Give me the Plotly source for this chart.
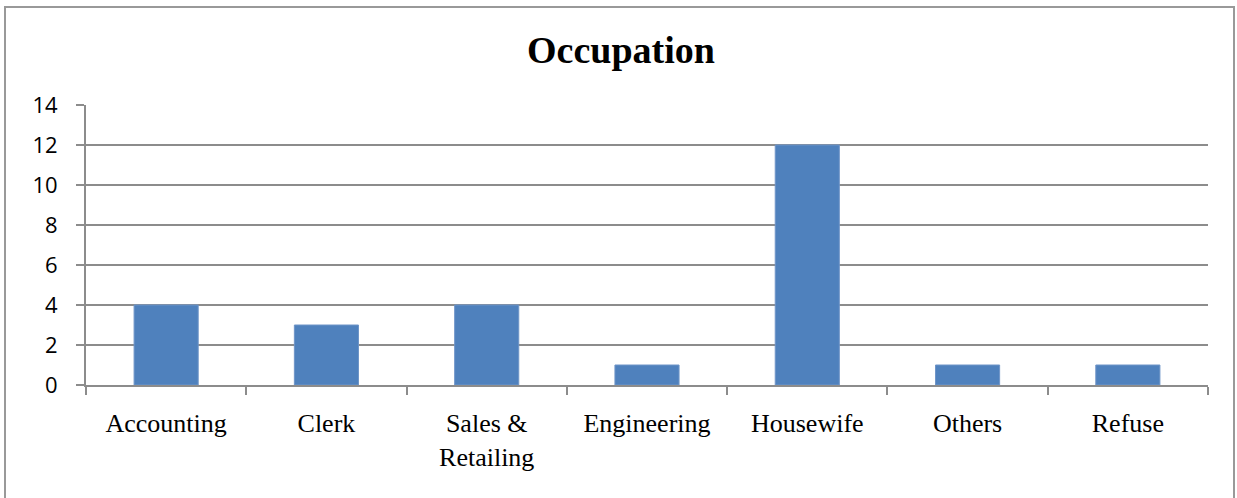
import plotly.graph_objects as go

# Occupation counts
categories = ["Accounting", "Clerk", "Sales &<br>Retailing", "Engineering",
              "Housewife", "Others", "Refuse"]
counts = [4, 3, 4, 1, 12, 1, 1]
y_ticks = [0, 2, 4, 6, 8, 10, 12, 14]

W, H = 1237, 498
L, R, T, B = 86, 29, 105, 113
pw, ph = W - L - R, H - T - B

fig = go.Figure(go.Bar(
    x=categories, y=counts,
    width=0.4,
    marker=dict(color="#4F81BD", line=dict(color="#6f95c8", width=1)),
))

grey = "#8c8c8c"
fig.update_layout(
    width=W, height=H,
    margin=dict(l=L, r=R, t=T, b=B),
    paper_bgcolor="white", plot_bgcolor="white",
    showlegend=False,
    title=dict(text="<b>Occupation</b>", x=0.502, xref="container",
               y=1 - 50 / H, yref="container", xanchor="center", yanchor="middle",
               font=dict(family="Liberation Serif", size=38, color="black")),
    xaxis=dict(
        tickson="boundaries", ticks="outside", ticklen=8, tickcolor=grey,
        tickwidth=2, showline=True, linecolor=grey, linewidth=2,
        showgrid=False, ticklabelstandoff=14,
        tickfont=dict(family="Liberation Serif", size=26, color="black"),
    ),
    yaxis=dict(
        range=[0, 14], tickvals=y_ticks, ticks="outside", ticklen=8,
        tickcolor=grey, tickwidth=2, showline=True, linecolor=grey, linewidth=2,
        showgrid=True, gridcolor=grey, gridwidth=2, zeroline=False,
        ticklabelstandoff=14,
        tickfont=dict(family="Open Sans", size=22, color="black"),
    ),
    shapes=[dict(
        type="rect", xref="paper", yref="paper",
        x0=(5 - L) / pw, x1=(1234 - L) / pw,
        y0=(H - T - (H + 20)) / ph, y1=(H - B - 7) / ph,
        line=dict(color="#999999", width=2), fillcolor="rgba(0,0,0,0)",
        layer="below",
    )],
)

fig.write_html("out.html")
